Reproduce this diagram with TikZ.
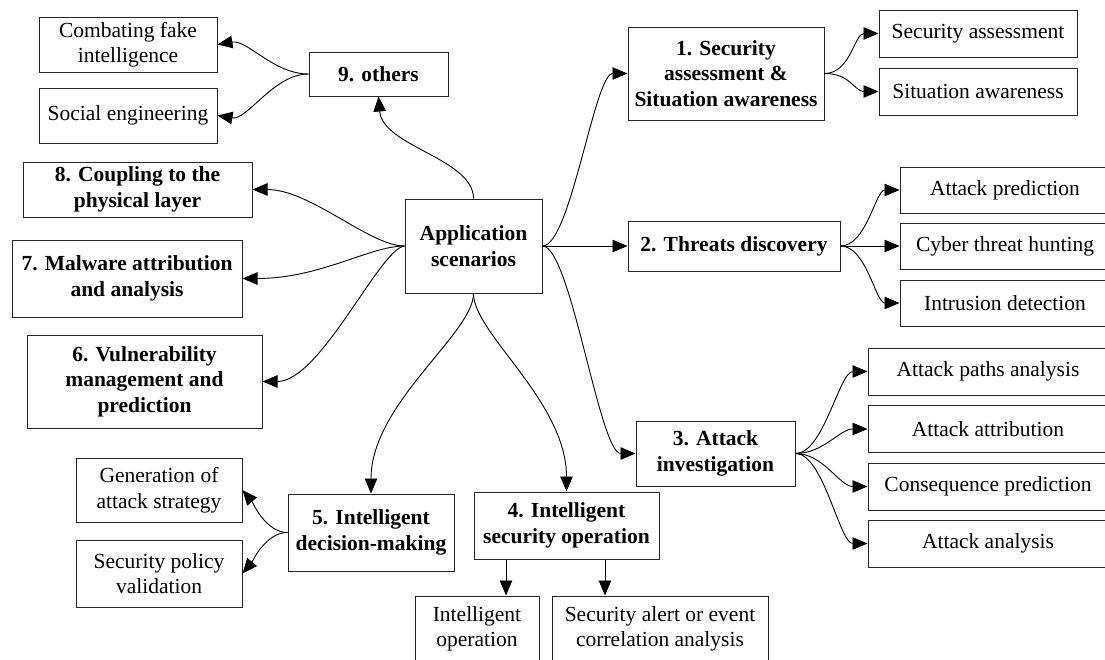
\documentclass[tikz,border=0pt]{standalone}
\usepackage{fontspec}
\setmainfont{Liberation Serif}
\usetikzlibrary{arrows.meta}

\tikzset{
  box/.style={draw=black!85, line width=1pt, align=center, inner sep=1pt,
    font=\fontsize{21.5}{25.5}\selectfont},
  bbox/.style={box, font=\fontsize{21.5}{25.5}\selectfont\bfseries},
  arr/.style={line width=0.9pt, -{Triangle[length=15pt,width=12.5pt]}},
}

\begin{document}
\begin{tikzpicture}[x=1pt,y=-1pt]
\useasboundingbox (0,0) rectangle (1105,659);

% nodes
\node[bbox, minimum width=137pt, minimum height=94pt] (app) at (473.5,246) {Application\\scenarios};

\node[bbox, minimum width=196pt, minimum height=93pt] (secaw) at (726,73.5) {1. Security\\assessment \&\\Situation awareness};
\node[bbox, minimum width=212pt, minimum height=50pt] (threats) at (734,246) {2. Threats discovery};
\node[bbox, minimum width=159pt, minimum height=65pt] (attack) at (715.5,453.5) {3. Attack\\investigation};
\node[bbox, minimum width=185pt, minimum height=67pt] (secop) at (566.5,525.5) {4. Intelligent\\security operation};
\node[bbox, minimum width=166pt, minimum height=77pt] (decision) at (371,532.5) {5. Intelligent\\decision-making};
\node[bbox, minimum width=235pt, minimum height=93pt] (vuln) at (144.5,381.5) {6. Vulnerability\\management and\\prediction};
\node[bbox, minimum width=230pt, minimum height=77pt] (malware) at (127,278.5) {7. Malware attribution\\and analysis};
\node[bbox, minimum width=229pt, minimum height=55pt] (coupling) at (137.5,189.5) {8. Coupling to the\\physical layer};
\node[bbox, minimum width=139pt, minimum height=44pt] (others) at (378.5,74) {9. others};

\node[box, minimum width=198pt, minimum height=47pt] (sa) at (978,33.5) {Security assessment};
\node[box, minimum width=198pt, minimum height=47pt] (sitaw) at (978,91.5) {Situation awareness};

\node[box, minimum width=210pt, minimum height=46pt] (attpred) at (1005,190) {Attack prediction};
\node[box, minimum width=210pt, minimum height=46pt] (cyber) at (1005,246) {Cyber threat hunting};
\node[box, minimum width=210pt, minimum height=46pt] (intrusion) at (1005,303) {Intrusion detection};

\node[box, minimum width=240pt, minimum height=47pt] (paths) at (988,371.5) {Attack paths analysis};
\node[box, minimum width=240pt, minimum height=47pt] (attrib) at (988,429) {Attack attribution};
\node[box, minimum width=240pt, minimum height=47pt] (conseq) at (988,486.5) {Consequence prediction};
\node[box, minimum width=240pt, minimum height=47pt] (analysis) at (988,543.5) {Attack analysis};

\node[box, minimum width=124pt, minimum height=66pt] (intop) at (477,629) {Intelligent\\operation};
\node[box, minimum width=216pt, minimum height=66pt] (alert) at (660,629) {Security alert or event\\correlation analysis};

\node[box, minimum width=166pt, minimum height=64pt] (gen) at (159,490) {Generation of\\attack strategy};
\node[box, minimum width=166pt, minimum height=67pt] (policy) at (159,573.5) {Security policy\\validation};

\node[box, minimum width=178pt, minimum height=55pt] (comb) at (128,44.5) {Combating fake\\intelligence};
\node[box, minimum width=178pt, minimum height=55pt] (social) at (128,115.5) {Social engineering};

% arrows from the centre
\draw[arr] (app.east) .. controls +(28,0) and +(-33,0) .. (secaw.west);
\draw[arr] (app.east) -- (threats.west);
\draw[arr] (app.east) .. controls +(28,0) and +(-36,0) .. (attack.west);
\draw[arr] (app.south) .. controls +(0,40) and +(0,-90) .. (secop.north);
\draw[arr] (app.south) .. controls +(0,40) and +(0,-90) .. (decision.north);
\draw[arr] (app.west) .. controls +(-25,3) and +(58,0) .. (vuln.east);
\draw[arr] (app.west) .. controls +(-35,0) and +(78,0) .. (malware.east);
\draw[arr] (app.west) .. controls +(-35,0) and +(58,0) .. (coupling.east);
\draw[arr] (app.north) .. controls +(0,-40) and +(4,50) .. (others.south);

% arrows to the leaves
\draw[arr] (secaw.east) .. controls +(26,0) and +(-24,0) .. (sa.west);
\draw[arr] (secaw.east) .. controls +(26,0) and +(-24,0) .. (sitaw.west);
\draw[arr] (threats.east) .. controls +(26,0) and +(-24,0) .. (attpred.west);
\draw[arr] (threats.east) -- (cyber.west);
\draw[arr] (threats.east) .. controls +(26,0) and +(-24,0) .. (intrusion.west);
\draw[arr] (attack.east) .. controls +(28,0) and +(-28,0) .. (paths.west);
\draw[arr] (attack.east) .. controls +(28,0) and +(-28,0) .. (attrib.west);
\draw[arr] (attack.east) .. controls +(28,0) and +(-28,0) .. (conseq.west);
\draw[arr] (attack.east) .. controls +(28,0) and +(-28,0) .. (analysis.west);
\draw[arr] ([xshift=-60.5pt]secop.south) -- ([xshift=-60.5pt]secop.south |- intop.north);
\draw[arr] ([xshift=38.5pt]secop.south) -- ([xshift=38.5pt]secop.south |- alert.north);
\draw[arr] (decision.west) .. controls +(-22,0) and +(10,12) .. (gen.east);
\draw[arr] (decision.west) .. controls +(-22,0) and +(10,-12) .. (policy.east);
\draw[arr] (others.west) .. controls +(-35,0) and +(30,-5) .. (comb.east);
\draw[arr] (others.west) .. controls +(-35,0) and +(30,5) .. (social.east);

\end{tikzpicture}
\end{document}
